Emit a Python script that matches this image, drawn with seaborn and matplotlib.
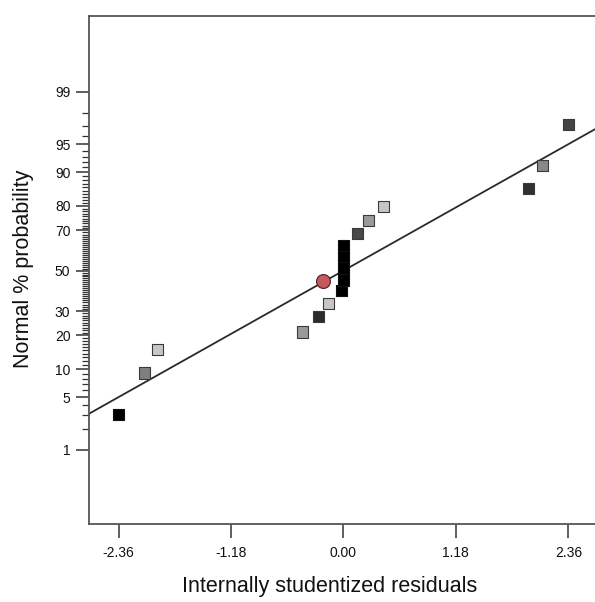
import numpy as np
import pandas as pd
import matplotlib
matplotlib.use("Agg")
import matplotlib.pyplot as plt
from matplotlib.ticker import NullFormatter
import seaborn as sns
from statistics import NormalDist

# ---- data ----
residuals = [-2.36, -2.09, -1.95, -0.43, -0.26, -0.16, -0.02, 0.00, 0.00, 0.00, 0.00,
             0.15, 0.26, 0.42, 1.94, 2.09, 2.36]
probability = [3.1, 9.2, 15.2, 21.3, 27.4, 33.4, 39.7, 45.2, 51.4, 57.5, 63.0,
               68.5, 74.4, 79.8, 85.7, 91.4, 97.1]
shade = ["#000000", "#7f7f7f", "#c6c6c6", "#999999", "#2b2b2b", "#c6c6c6", "#000000",
         "#000000", "#000000", "#000000", "#000000", "#484848", "#9a9a9a", "#c6c6c6",
         "#303030", "#888888", "#444444"]
highlight_residual = [-0.21]
highlight_probability = [44.7]
fit_intercept = 0.0
fit_slope = 0.696
x_ticks = [-2.36, -1.18, 0.00, 1.18, 2.36]
x_tick_labels = ["-2.36", "-1.18", "0.00", "1.18", "2.36"]
y_major = [1, 5, 10, 20, 30, 50, 70, 80, 90, 95, 99]
y_minor = [v for v in range(2, 99) if v not in y_major]

df = pd.DataFrame({"residual": residuals, "probability": probability, "shade": shade})
hl = pd.DataFrame({"residual": highlight_residual, "probability": highlight_probability})

ND = NormalDist()
_inv_cdf = np.vectorize(ND.inv_cdf, otypes=[float])
_cdf = np.vectorize(ND.cdf, otypes=[float])


def fwd(p):
    p = np.clip(np.asarray(p, dtype=float) / 100.0, 1e-12, 1 - 1e-12)
    return _inv_cdf(p)


def inv(z):
    return _cdf(np.asarray(z, dtype=float)) * 100.0


sns.set_theme(style="white")
plt.rcParams["font.family"] = ["Liberation Sans", "DejaVu Sans"]

W, H = 595, 602
fig = plt.figure(figsize=(W / 100, H / 100), dpi=100)
L, T, B = 89, 16, 524
ax = fig.add_axes([L / W, 1 - B / H, 1 - L / W, (B - T) / H])

ax.set_yscale("function", functions=(fwd, inv))
xlim = (-2.67, 2.64)
ax.set_xlim(*xlim)
ax.set_ylim(0.05, 99.953)

xs = np.array(xlim)
ax.plot(xs, inv(fit_intercept + fit_slope * xs), color="#2a2a2a", lw=1.3, zorder=2)

edge = ["#111111" if c == "#000000" else "#3a3a3a" for c in shade]
sns.scatterplot(data=df, x="residual", y="probability", hue="shade",
                palette={c: c for c in shade}, marker="s", s=64,
                edgecolor=edge, linewidth=0.8, legend=False, ax=ax, zorder=3)
sns.scatterplot(data=hl, x="residual", y="probability", color="#c55a5c", marker="o",
                s=100, edgecolor="#4a2020", linewidth=0.8, legend=False, ax=ax, zorder=4)

ax.set_xticks(x_ticks)
ax.set_xticklabels(x_tick_labels)
ax.set_yticks(y_major)
ax.set_yticklabels([str(v) for v in y_major])
ax.set_yticks(y_minor, minor=True)
ax.yaxis.set_minor_formatter(NullFormatter())

for side in ["left", "bottom", "top"]:
    ax.spines[side].set_color("#555555")
    ax.spines[side].set_linewidth(1.3)
ax.spines["right"].set_visible(False)

ax.tick_params(axis="y", which="major", direction="out", length=9.4, width=1.1,
               color="#333333", pad=4, labelsize=10, labelcolor="#111111", left=True)
ax.tick_params(axis="y", which="minor", direction="out", length=5, width=0.9,
               color="#333333", left=True)
ax.tick_params(axis="x", which="major", direction="out", length=10, width=1.1,
               color="#333333", pad=6, labelsize=10, labelcolor="#111111", bottom=True)
ax.tick_params(axis="x", which="minor", bottom=False)

ax.set_xlabel("Internally studentized residuals", fontsize=15.5, color="#111111")
ax.set_ylabel("Normal % probability", fontsize=15.5, color="#111111")
ax.xaxis.set_label_coords((329.5 - L) / (W - L), -(576 - B) / (B - T))
ax.yaxis.set_label_coords(-(L - 34) / (W - L), (B - 268.5) / (B - T))

fig.savefig("out.png", dpi=100)
